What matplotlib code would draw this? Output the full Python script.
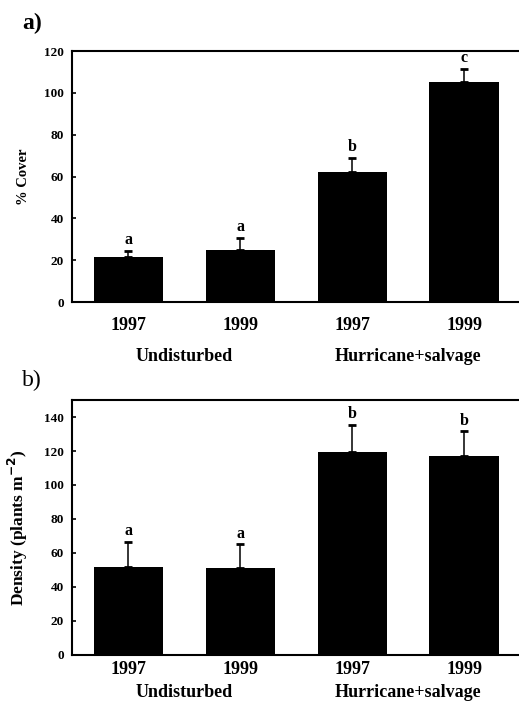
import numpy as np
import matplotlib.pyplot as plt

years = ["1997", "1999", "1997", "1999"]
groups = ["Undisturbed", "Hurricane+salvage"]

cover = [21.5, 25, 62, 105]
cover_se = [3, 5.5, 7, 6.5]
cover_letters = ["a", "a", "b", "c"]

density = [51.5, 51, 119.5, 117]
density_se = [15, 14, 16, 14.5]
density_letters = ["a", "a", "b", "b"]

plt.rcParams['font.family'] = ['Liberation Serif', 'DejaVu Serif']
plt.rcParams['font.weight'] = 'bold'

fig = plt.figure(figsize=(5.19, 7.03), dpi=100)
ax1 = fig.add_axes([0.1387, 0.5704, 0.8613, 0.357])
ax2 = fig.add_axes([0.1387, 0.0683, 0.8613, 0.3627])

x = np.arange(len(years))


def panel(ax, vals, se, letters, ymax, step, ylabel, ylabsize, tickpad, grouppad):
    ax.bar(x, vals, width=0.62, color='black', zorder=2)
    ax.errorbar(x, vals, yerr=[np.zeros(len(se)), se], fmt='none',
                ecolor='black', elinewidth=1.1, capsize=3, capthick=2, zorder=3)
    for xi, v, e, l in zip(x, vals, se, letters):
        ax.annotate(l, (xi, v + e), xytext=(0, 2), textcoords='offset points',
                    ha='center', va='bottom', fontsize=11.5, fontweight='bold')
    ax.set_xlim(-0.505, 3.49)
    ax.set_ylim(0, ymax)
    ax.set_yticks(np.arange(0, ymax + 1, step))
    ax.set_xticks(x)
    ax.set_xticklabels(years, fontsize=13, fontweight='bold')
    ax.tick_params(axis='x', length=0, pad=tickpad)
    ax.tick_params(axis='y', direction='in', length=3, width=1.2, labelsize=9.5, pad=6)
    for s in ['left', 'bottom', 'top']:
        ax.spines[s].set_linewidth(1.5)
    ax.spines['right'].set_visible(False)
    ax.set_ylabel(ylabel, fontsize=ylabsize, fontweight='bold', labelpad=10)
    for gx, g in zip([0.5, 2.5], groups):
        ax.annotate(g, (gx, 0), xycoords=('data', 'axes fraction'),
                    xytext=(0, grouppad), textcoords='offset points',
                    ha='center', va='center', fontsize=13, fontweight='bold')


panel(ax1, cover, cover_se, cover_letters, 120, 20, '% Cover', 10.5, 11, -39)
ax1.set_yticks(np.arange(0, 121, 20))
ax1.set_ylim(0, 120)
panel(ax2, density, density_se, density_letters, 150, 20,
      'Density (plants m$^{\\mathbf{-2}}$)', 12.5, 4, -27)
ax2.set_yticks(np.arange(0, 141, 20))

fig.text(0.042, 0.967, 'a)', fontsize=17, fontweight='bold', va='center')
fig.text(0.042, 0.459, 'b)', fontsize=17, fontweight='normal', va='center')

fig.savefig('out.png', dpi=100)
